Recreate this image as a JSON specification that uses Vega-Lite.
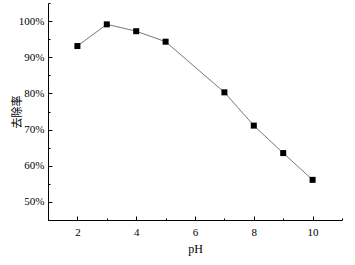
{
  "$schema": "https://vega.github.io/schema/vega-lite/v6.json",
  "width": 294,
  "height": 217,
  "autosize": {"type": "none"},
  "padding": {"left": 48, "top": 3, "right": 13, "bottom": 45},
  "background": "white",
  "config": {
    "view": {"stroke": null},
    "axis": {
      "grid": false,
      "domainColor": "black",
      "tickColor": "black",
      "labelColor": "black",
      "titleColor": "black",
      "labelFont": "Liberation Serif",
      "labelFontSize": 11,
      "titleFont": "Liberation Serif",
      "titleFontSize": 12,
      "titleFontWeight": "normal"
    }
  },
  "data": {
    "values": [
      {"pH": 2, "rate": 93.1},
      {"pH": 3, "rate": 99.1},
      {"pH": 4, "rate": 97.2},
      {"pH": 5, "rate": 94.3},
      {"pH": 7, "rate": 80.3},
      {"pH": 8, "rate": 71.1},
      {"pH": 9, "rate": 63.5},
      {"pH": 10, "rate": 56.1}
    ]
  },
  "encoding": {
    "x": {
      "field": "pH",
      "type": "quantitative",
      "scale": {"domain": [1, 11], "nice": false, "zero": false},
      "axis": {
        "title": "pH",
        "values": [1, 2, 3, 4, 5, 6, 7, 8, 9, 10, 11],
        "labelExpr": "datum.value % 2 === 0 ? datum.label : ''",
        "tickSize": {"condition": {"test": "datum.value % 2 === 0", "value": -4}, "value": -2},
        "labelPadding": 10,
        "titlePadding": 6
      }
    },
    "y": {
      "field": "rate",
      "type": "quantitative",
      "scale": {"domain": [45, 105], "nice": false, "zero": false},
      "axis": {
        "title": "去除率",
        "titleFont": "Noto Sans CJK SC",
        "titleFontSize": 11,
        "values": [45, 50, 55, 60, 65, 70, 75, 80, 85, 90, 95, 100, 105],
        "labelExpr": "datum.value % 10 === 0 ? datum.value + '%' : ''",
        "tickSize": {"condition": {"test": "datum.value % 10 === 0", "value": -4}, "value": -2},
        "labelPadding": 8,
        "titlePadding": -4
      }
    }
  },
  "layer": [
    {"mark": {"type": "line", "color": "#555555", "strokeWidth": 0.8}},
    {"mark": {"type": "square", "color": "black", "opacity": 1, "size": 36, "filled": true}}
  ]
}
